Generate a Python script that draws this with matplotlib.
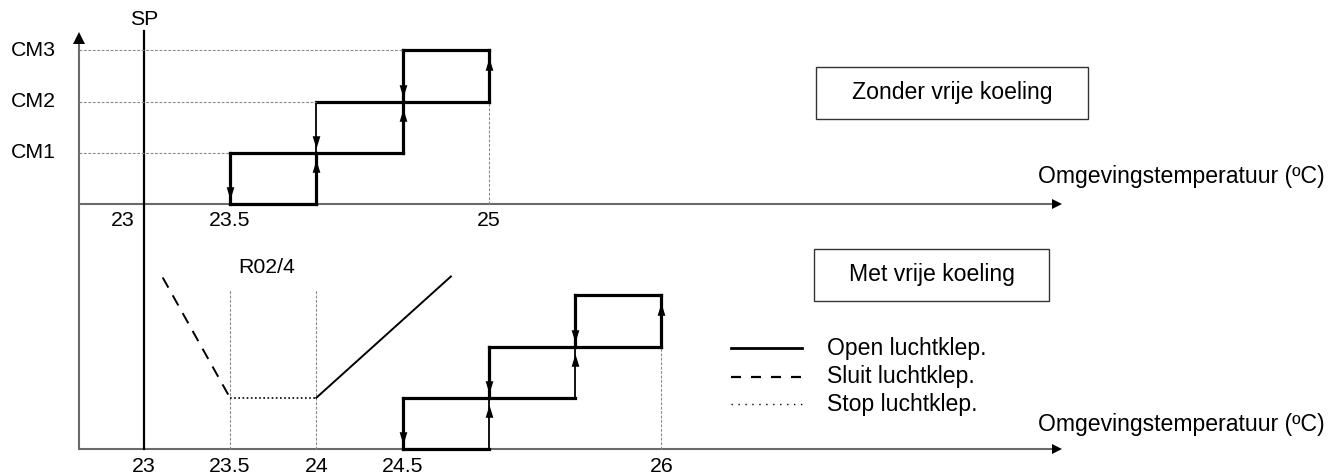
import matplotlib
matplotlib.use("Agg")
import matplotlib.pyplot as plt
from matplotlib.lines import Line2D
from matplotlib.patches import Rectangle

# ---------------- data ----------------
level_labels = ["CM1", "CM2", "CM3"]
levels = [1, 2, 3]

# top chart (without free cooling): switch-on / switch-off temperatures per stage
top_on = [24.0, 24.5, 25.0]
top_off = [23.5, 24.0, 24.5]
top_tick_vals = [23, 23.5, 25]
top_tick_labels = ["23", "23.5", "25"]

# bottom chart (with free cooling)
bot_on = [25.0, 25.5, 26.0]
bot_off = [24.5, 25.0, 25.5]
bot_tick_vals = [23, 23.5, 24, 24.5, 26]
bot_tick_labels = ["23", "23.5", "24", "24.5", "26"]

setpoint = 23.0
damper_close_T = [23.11, 23.5]
damper_close_L = [3.35, 1.0]
damper_stop_T = [23.5, 24.0]
damper_stop_L = [1.0, 1.0]
damper_open_T = [24.0, 24.78]
damper_open_L = [1.0, 3.37]
r02_guides = [23.5, 24.0]
r02_guide_top = 3.12

legend_labels = ["Open luchtklep.", "Sluit luchtklep.", "Stop luchtklep."]
xlabel = "Omgevingstemperatuur (ºC)"

# ---------------- layout ----------------
W, H = 1329, 475
plt.rcParams["font.family"] = ["Liberation Sans", "DejaVu Sans"]
fig = plt.figure(figsize=(W / 100, H / 100), dpi=100)
ax = fig.add_axes([0, 0, 1, 1])
ax.set_axis_off()

PX_PER_T = 172.6
X_SP = 143.7
PX_PER_L = 51.2
Y_BOT = 449.0
Y_TOP = 204.0
TOP_OFF = (Y_BOT - Y_TOP) / PX_PER_L

ax.set_xlim(23 - X_SP / PX_PER_T, 23 + (W - X_SP) / PX_PER_T)
ax.set_ylim(-(H - Y_BOT) / PX_PER_L, Y_BOT / PX_PER_L)

x_axis_start = 23 - (X_SP - 79) / PX_PER_T
x_axis_end = 23 + (1062 - X_SP) / PX_PER_T
y_axis_top = (Y_BOT - 33) / PX_PER_L
sp_top = (Y_BOT - 31) / PX_PER_L

AX_COL = "#6a6a6a"
GUIDE_COL = "#8a8a8a"
GUIDE_LS = (0, (2.5, 1.5))
THICK = 2.3
THIN = 1.3

# axes
for base in (0.0, TOP_OFF):
    ax.plot([x_axis_start, x_axis_end - 0.05], [base, base], color=AX_COL, lw=1.5,
            solid_capstyle="butt")
    ax.plot([x_axis_end - 0.03], [base], marker=">", color="black", ms=7, mew=0)
ax.plot([x_axis_start, x_axis_start], [0, y_axis_top - 0.08], color=AX_COL, lw=1.5)
ax.plot([x_axis_start], [y_axis_top - 0.1], marker="^", color="black", ms=8, mew=0)

# setpoint line
ax.plot([setpoint, setpoint], [0, sp_top], color="black", lw=1.6)

tri_up = [(-0.62, -1), (0.62, -1), (0, 1)]
tri_dn = [(-0.62, 1), (0.62, 1), (0, -1)]


def draw_steps(on, off, base, up_lw, dn_lw):
    # horizontals
    spans = [(off[0], on[0])] + [(off[k - 1], on[k] if k < len(on) else on[-1])
                                 for k in range(1, len(on) + 1)]
    for k, (a, b) in enumerate(spans):
        ax.plot([a, b], [base + k, base + k], color="black", lw=THICK,
                solid_capstyle="projecting")
    for k in range(len(on)):
        ax.plot([on[k], on[k]], [base + k, base + k + 1], color="black", lw=up_lw[k],
                solid_capstyle="projecting")
        ax.plot([off[k], off[k]], [base + k + 1, base + k], color="black", lw=dn_lw[k],
                solid_capstyle="projecting")
        ax.plot([on[k]], [base + k + 0.74], marker=tri_up, color="black", ms=9, mew=0)
        ax.plot([off[k]], [base + k + 0.21], marker=tri_dn, color="black", ms=9, mew=0)


draw_steps(top_on, top_off, TOP_OFF, [THICK, THICK, THICK], [THICK, THIN, THICK])
draw_steps(bot_on, bot_off, 0.0, [THIN, THIN, THICK], [THICK, THICK, THICK])

# guides top chart
for k, lev in enumerate(levels):
    ax.plot([x_axis_start, top_off[k]], [TOP_OFF + lev] * 2, color=GUIDE_COL, lw=0.8,
            ls=GUIDE_LS)
ax.plot([top_on[-1]] * 2, [TOP_OFF, TOP_OFF + levels[1]], color=GUIDE_COL, lw=0.8, ls=GUIDE_LS)
ax.plot([bot_on[-1]] * 2, [0, levels[1]], color=GUIDE_COL, lw=0.8, ls=GUIDE_LS)
for g in r02_guides:
    ax.plot([g, g], [0, r02_guide_top], color=GUIDE_COL, lw=0.8, ls=GUIDE_LS)

# damper lines
ax.plot(damper_close_T, damper_close_L, color="black", lw=1.4, ls=(0, (6, 4.5)))
ax.plot(damper_stop_T, damper_stop_L, color="black", lw=1.2, ls=(0, (1, 1.5)))
ax.plot(damper_open_T, damper_open_L, color="black", lw=1.4)

FS_N = 15.3   # numbers / short labels
FS_W = 16.6   # longer word labels

# level labels
for lev, lab in zip(levels, level_labels):
    ax.text(22.49, TOP_OFF + lev, lab, ha="right", va="center", fontsize=FS_N)

# tick labels
for v, lab in zip(top_tick_vals, top_tick_labels):
    if v == setpoint:
        ax.text(v - 0.05, TOP_OFF - 0.33, lab, ha="right", va="center", fontsize=FS_N)
    else:
        ax.text(v, TOP_OFF - 0.33, lab, ha="center", va="center", fontsize=FS_N)
for v, lab in zip(bot_tick_vals, bot_tick_labels):
    ax.text(v, -0.34, lab, ha="center", va="center", fontsize=FS_N)

ax.text(setpoint, sp_top + 0.22, "SP", ha="center", va="center", fontsize=FS_N)
ax.text(23.71, 3.55, "R02/4", ha="center", va="center", fontsize=FS_N)


def fx(px):
    return px / W


def fy(py):
    return 1 - py / H


# x labels
fig.text(fx(1325), fy(177), xlabel, ha="right", va="center", fontsize=FS_W)
fig.text(fx(1325), fy(424), xlabel, ha="right", va="center", fontsize=FS_W)

# boxes
for (x0, y0, x1, y1, txt) in [(816, 67, 1088, 119, "Zonder vrije koeling"),
                              (814, 249, 1049, 301, "Met vrije koeling")]:
    fig.patches.append(Rectangle((fx(x0), fy(y1)), (x1 - x0) / W, (y1 - y0) / H,
                                 transform=fig.transFigure, fill=False,
                                 ec="#333333", lw=1.0))
    fig.text(fx((x0 + x1) / 2), fy((y0 + y1) / 2), txt, ha="center", va="center",
             fontsize=FS_W)

# legend
styles = [dict(ls="-", lw=2.0), dict(ls=(0, (4.5, 4.5)), lw=1.6), dict(ls=(0, (1, 4)), lw=1.0)]
for yy, lab, st in zip([348, 377, 404], legend_labels, styles):
    fig.lines.append(Line2D([fx(731), fx(802)], [fy(yy), fy(yy)], transform=fig.transFigure,
                            color="black", **st))
    fig.text(fx(827), fy(yy), lab, ha="left", va="center", fontsize=FS_W)

fig.savefig("out.png", dpi=100)
